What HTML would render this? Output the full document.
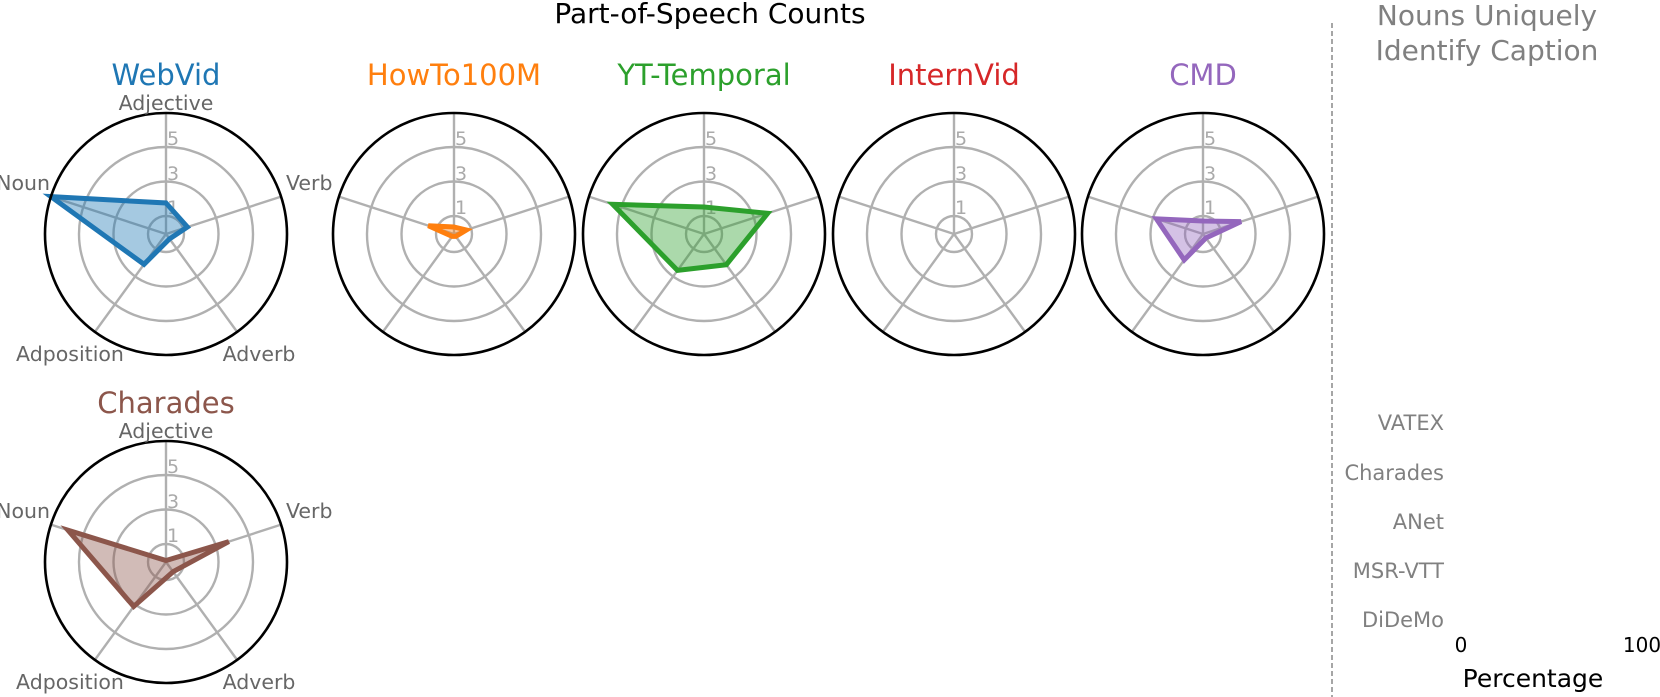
<!DOCTYPE html>
<html><head><meta charset="utf-8"><style>
html,body{margin:0;padding:0;background:#fff;}
svg{display:block;font-family:"DejaVu Sans","Liberation Sans",sans-serif;}
</style></head><body>
<svg id="s" width="1660" height="697" viewBox="0 0 1660 697" xmlns="http://www.w3.org/2000/svg">
<text x="710" y="23" font-size="28" text-anchor="middle" fill="#000">Part-of-Speech Counts</text>
<line x1="1332" y1="23" x2="1332" y2="697" stroke="#888" stroke-width="1.5" stroke-dasharray="5,3"/>
<text x="1487" y="25" font-size="28" text-anchor="middle" fill="#808080">Nouns Uniquely</text>
<text x="1487" y="60" font-size="28" text-anchor="middle" fill="#808080">Identify Caption</text>
<g font-size="21" fill="#808080" text-anchor="end">
<text x="1444" y="430">VATEX</text>
<text x="1444" y="480">Charades</text>
<text x="1444" y="529">ANet</text>
<text x="1444" y="578">MSR-VTT</text>
<text x="1444" y="627">DiDeMo</text>
</g>
<text x="1461" y="652" font-size="20" text-anchor="middle" fill="#000">0</text>
<text x="1642" y="652" font-size="20" text-anchor="middle" fill="#000">100</text>
<text x="1533" y="687" font-size="25" text-anchor="middle" fill="#000">Percentage</text>
</svg>
<script>
var s=document.getElementById('s'),NS='http://www.w3.org/2000/svg';
function el(t,a,txt){var e=document.createElementNS(NS,t);for(var k in a)e.setAttribute(k,a[k]);if(txt!=null)e.textContent=txt;s.appendChild(e);return e;}
var ang=[90,18,-54,-126,162].map(function(d){return d*Math.PI/180;});
var charts=[
 {n:'WebVid',c:'#1f77b4',x:166,y:234,d:[31,22.5,6,37.5,121],lab:true},
 {n:'HowTo100M',c:'#ff7f0e',x:454,y:234,d:[7,13,3,3,27]},
 {n:'YT-Temporal',c:'#2ca02c',x:704,y:234,d:[27,67,38,45,96]},
 {n:'InternVid',c:'#d62728',x:954,y:234,d:null},
 {n:'CMD',c:'#9467bd',x:1203,y:234,d:[13,40,5,32,49]},
 {n:'Charades',c:'#8c564b',x:166,y:562,d:[1.5,66,12,55,103],lab:true}
];
charts.forEach(function(ch){
 var cx=ch.x,cy=ch.y,R=121;
 [18,52.5,87].forEach(function(r){el('circle',{cx:cx,cy:cy,r:r,fill:'none',stroke:'#b0b0b0','stroke-width':2.4});});
 ang.forEach(function(a){el('line',{x1:cx,y1:cy,x2:cx+R*Math.cos(a),y2:cy-R*Math.sin(a),stroke:'#b0b0b0','stroke-width':2.4});});
 [['1',207],['3',173],['5',138]].forEach(function(t){el('text',{x:cx+1,y:cy-234+t[1]+7,'font-size':19,fill:'#aaa'},t[0]);});
 if(ch.d){
 var pts=ch.d.map(function(r,i){return (cx+r*Math.cos(ang[i])).toFixed(1)+','+(cy-r*Math.sin(ang[i])).toFixed(1);}).join(' ');
 el('polygon',{points:pts,fill:ch.c,'fill-opacity':0.4,stroke:ch.c,'stroke-width':5,'stroke-linejoin':'miter'});
 }
 el('circle',{cx:cx,cy:cy,r:R,fill:'none',stroke:'#000','stroke-width':2.6});
 el('text',{x:cx,y:cy-149,'font-size':29,fill:ch.c,'text-anchor':'middle'},ch.n);
 if(ch.lab){
  var g={'font-size':20.5,fill:'#666'};
  function L(t,x,y,an){var a=Object.assign({},g,{x:x,y:y,'text-anchor':an});el('text',a,t);}
  L('Adjective',cx,cy-124,'middle');
  L('Verb',cx+120,cy-44,'start');
  L('Noun',cx-116,cy-44,'end');
  L('Adposition',cx-96,cy+127,'middle');
  L('Adverb',cx+93,cy+127,'middle');
 }
});
</script>
</body></html>
